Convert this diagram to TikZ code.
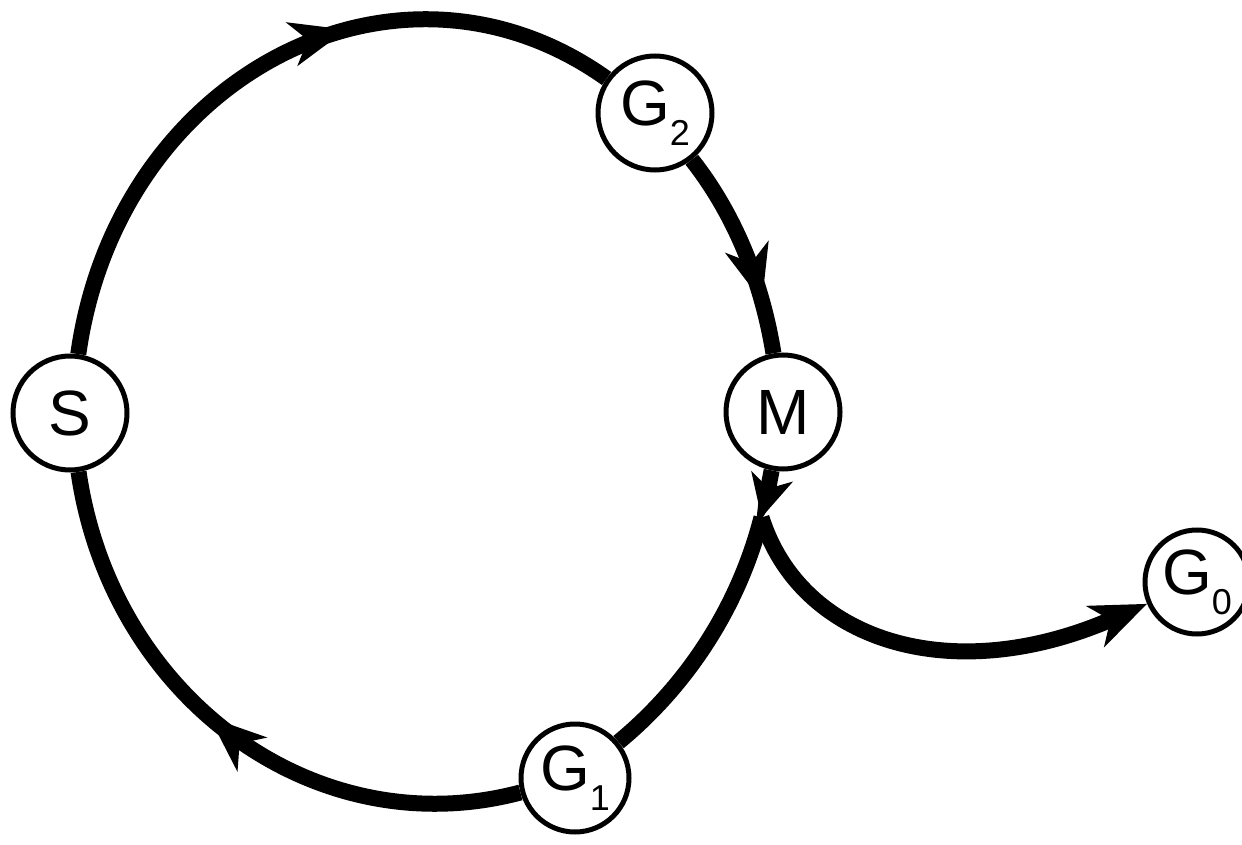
\documentclass[tikz,border=0pt]{standalone}
\usepackage{fontspec}
\setmainfont{Liberation Sans}
\usetikzlibrary{arrows.meta,decorations.markings}
% control points of an elliptic arc (centre 426,-410; radii 349,390), going from angle #1 down to #2
\newcommand{\ellctl}[3]{%
  \pgfmathsetmacro\kk{4/3*tan(((#1)-(#2))/4)}%
  \coordinate (#3a) at ({426+349*cos(#1)+\kk*349*sin(#1)},{-410+390*sin(#1)-\kk*390*cos(#1)});%
  \coordinate (#3b) at ({426+349*cos(#2)-\kk*349*sin(#2)},{-410+390*sin(#2)+\kk*390*cos(#2)});%
}
\newcommand{\gsub}[1]{G\raisebox{-10pt}{\fontsize{18}{18}\selectfont #1}}
\tikzset{
  bigtip/.tip={Stealth[length=28pt,width=22pt,inset=8pt]},
  smalltip/.tip={Stealth[length=21pt,width=21pt,inset=6pt]},
  state/.style={circle, draw, line width=2.5pt, fill=white, minimum size=57pt,
    inner sep=0pt, font=\fontsize{32}{32}\selectfont},
  flow/.style={line width=8pt},
  midarrow/.style={postaction={decorate}, decoration={markings,
    mark=at position #1 with {\arrow{bigtip}}}}
}
\begin{document}
\begin{tikzpicture}[x=0.5pt,y=0.5pt]
\useasboundingbox (0,0) rectangle (1242,-845);
\node[state] (S)  at (70,-413)   {S};
\node[state] (G2) at (655,-113)  {\gsub{2}};
\node[state] (M)  at (783,-412)  {M};
\node[state, minimum size=54pt] (G1) at (575,-778) {\gsub{1}};
\node[state, minimum size=52pt] (G0) at (1197,-582) {\gsub{0}};
\coordinate (J) at ({426+349*cos(-16)},{-410+390*sin(-16)});
\ellctl{171.6}{57.9}{c1}
\ellctl{40.1}{8.4}{c2}
\ellctl{-8.4}{-16}{c3}
\ellctl{-16}{-57}{c4}
\ellctl{-75}{-171.6}{c5}
\draw[flow, midarrow=0.62] (S) .. controls (c1a) and (c1b) .. (G2);
\draw[flow, midarrow=0.75] (G2) .. controls (c2a) and (c2b) .. (M);
\draw[flow, -smalltip] (M) .. controls (c3a) and (c3b) .. (J);
\draw[flow] (J) .. controls (c4a) and (c4b) .. (G1);
\draw[flow, midarrow=0.54] (G1) .. controls (c5a) and (c5b) .. (S);
\draw[flow, -bigtip] (J) .. controls (800,-640) and (950,-690) .. (G0);
\end{tikzpicture}
\end{document}
